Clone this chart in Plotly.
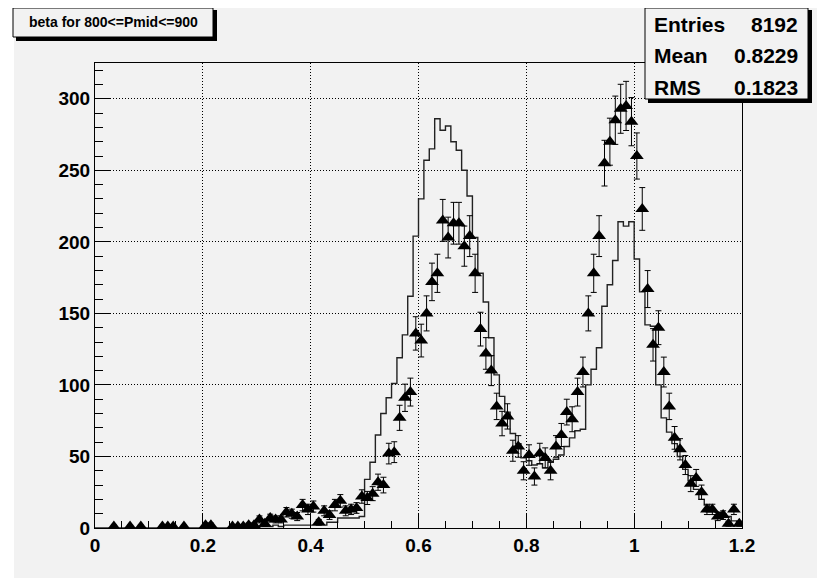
import numpy as np
import plotly.graph_objects as go

# ---------------- data ----------------
bin_width = 0.01
n_bins = 120

# histogram drawn as a step line (counts per 0.01 bin, 0 .. 1.2)
hist_counts = [
    0, 0, 0, 0, 0, 0, 0, 0, 0, 0,
    0, 0, 0, 0, 0, 0, 0, 0, 0, 0,
    0, 0, 0, 0, 0, 0, 0, 0, 1, 1,
    1, 1, 1, 2, 1, 2, 2, 2, 2, 2,
    2, 2, 2, 4, 4, 7, 7, 7, 7, 8,
    34, 46, 65, 80, 91, 101, 119, 135, 162, 204,
    230, 257, 265, 286, 278, 281, 270, 264, 250, 232,
    203, 178, 158, 133, 107, 92, 81, 66, 59, 49,
    47, 44, 45, 42, 46, 48, 51, 57, 63, 68,
    69, 100, 111, 126, 155, 170, 187, 214, 211, 214,
    188, 165, 142, 141, 100, 77, 67, 59, 50, 41,
    33, 27, 20, 16, 12, 11, 10, 8, 5, 3,
]

# second histogram drawn as triangle markers with error bars
marker_counts = [
    0, 0, 0, 1, 0, 0, 1, 0, 1, 0,
    0, 0, 1, 1, 1, 0, 1, 0, 0, 0,
    2, 2, 0, 0, 0, 1, 1, 1, 2, 2,
    6, 3, 7, 6, 6, 11, 10, 8, 16, 13,
    15, 4, 12, 9, 16, 19, 12, 13, 14, 22,
    21, 24, 32, 30, 52, 53, 77, 91, 95, 136,
    131, 150, 172, 178, 215, 203, 213, 213, 197, 204,
    178, 139, 122, 110, 85, 73, 78, 54, 57, 40,
    51, 36, 52, 49, 40, 57, 65, 81, 76, 95,
    109, 150, 178, 204, 255, 270, 285, 293, 295, 284,
    260, 223, 167, 128, 140, 109, 85, 63, 55, 44,
    31, 35, 25, 13, 13, 8, 9, 3, 13, 3,
]

x_tick_vals = [0, 0.2, 0.4, 0.6, 0.8, 1.0, 1.2]
x_tick_text = ["0", "0.2", "0.4", "0.6", "0.8", "1", "1.2"]
y_tick_vals = [0, 50, 100, 150, 200, 250, 300]
y_tick_text = ["0", "50", "100", "150", "200", "250", "300"]

title_text = "beta for 800<=Pmid<=900"
stats_labels = ["Entries", "Mean", "RMS"]
stats_values = ["8192", "0.8229", "0.1823"]

# ---------------- derived ----------------
edges = np.arange(n_bins + 1) * bin_width
centers = edges[:-1] + bin_width / 2
hist = np.array(hist_counts, dtype=float)
mk = np.array(marker_counts, dtype=float)
mask = mk > 0
mk_x = centers[mask]
mk_y = mk[mask]
mk_err = np.sqrt(mk_y)

step_x = list(edges)
step_y = list(hist) + [hist[-1]]

fig = go.Figure()
fig.add_trace(go.Scatter(
    x=step_x, y=step_y, mode="lines", line_shape="hv",
    line=dict(color="#222222", width=1.4), hoverinfo="skip",
))
fig.add_trace(go.Scatter(
    x=mk_x, y=mk_y, mode="markers",
    marker=dict(symbol="triangle-up", size=12, color="black"),
    error_y=dict(type="data", array=mk_err, visible=True,
                 color="black", thickness=1, width=3),
))

# ---------------- layout ----------------
OFF = 8  # page body margin: screen px = figure px + OFF
W, H = 825 - OFF, 583 - OFF
L, R, T, B = 95 - OFF, 742 - OFF, 63 - OFF, 528 - OFF


def px(x):  # screen x -> paper
    return (x - OFF - L) / (R - L)


def py(y):  # screen y -> paper
    return (B - (y - OFF)) / (B - T)


GRAY = "#f2f2f2"
shapes = [
    # canvas
    dict(type="rect", xref="paper", yref="paper", layer="below",
         x0=px(14), x1=px(820), y0=py(578), y1=py(8),
         fillcolor=GRAY, line=dict(width=0)),
    # title box shadow + box
    dict(type="rect", xref="paper", yref="paper", layer="above",
         x0=px(16), x1=px(217), y0=py(41), y1=py(10),
         fillcolor="black", line=dict(width=0)),
    dict(type="rect", xref="paper", yref="paper", layer="above",
         x0=px(13), x1=px(213), y0=py(37), y1=py(8),
         fillcolor=GRAY, line=dict(color="black", width=1)),
    # stats box shadow + box
    dict(type="rect", xref="paper", yref="paper", layer="above",
         x0=px(648), x1=px(812), y0=py(103), y1=py(10),
         fillcolor="black", line=dict(width=0)),
    dict(type="rect", xref="paper", yref="paper", layer="above",
         x0=px(645), x1=px(808), y0=py(99), y1=py(8),
         fillcolor=GRAY, line=dict(color="black", width=1)),
]

FONT = "Liberation Sans, Arial, Helvetica, sans-serif"
annotations = [
    dict(text=title_text, xref="paper", yref="paper", x=px(113), y=py(22.5),
         xanchor="center", yanchor="middle", showarrow=False,
         font=dict(family=FONT, size=14, color="black", weight="bold")),
]
row_y = [25, 56, 88]
for lab, val, yy in zip(stats_labels, stats_values, row_y):
    annotations.append(dict(text=lab, xref="paper", yref="paper", x=px(652), y=py(yy),
                            xanchor="left", yanchor="middle", showarrow=False,
                            font=dict(family=FONT, size=21, color="black", weight="bold")))
    annotations.append(dict(text=val, xref="paper", yref="paper", x=px(800), y=py(yy),
                            xanchor="right", yanchor="middle", showarrow=False,
                            font=dict(family=FONT, size=21, color="black", weight="bold")))

axis_common = dict(
    showline=True, linecolor="black", linewidth=1, mirror=True,
    ticks="inside", tickcolor="black", tickwidth=1,
    showgrid=True, gridcolor="black", gridwidth=1, griddash="1px,2px",
    zeroline=False,
    tickfont=dict(family=FONT, size=19, color="black", weight="bold"),
)

fig.update_xaxes(range=[0, 1.2], tickvals=x_tick_vals, ticktext=x_tick_text,
                 ticklen=15,
                 minor=dict(dtick=0.05, ticks="inside", ticklen=7, tickcolor="black",
                            showgrid=False),
                 **axis_common)
fig.update_yaxes(range=[0, 325], tickvals=y_tick_vals, ticktext=y_tick_text,
                 ticklen=15,
                 minor=dict(dtick=10, ticks="inside", ticklen=8, tickcolor="black",
                            showgrid=False),
                 **axis_common)

fig.update_layout(
    width=W, height=H,
    margin=dict(l=L, r=W - R, t=T, b=H - B, pad=0),
    paper_bgcolor="white", plot_bgcolor=GRAY,
    showlegend=False,
    shapes=shapes, annotations=annotations,
)

fig.write_html("out.html")
